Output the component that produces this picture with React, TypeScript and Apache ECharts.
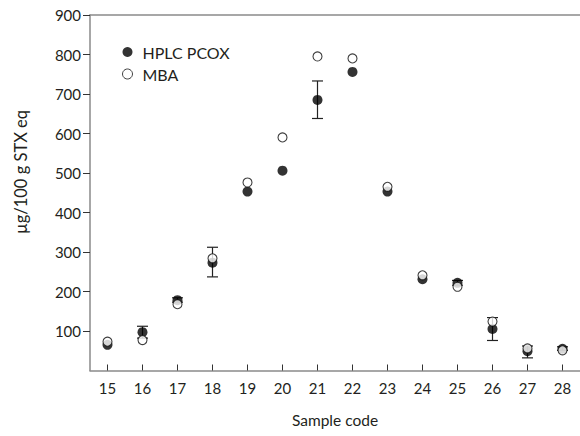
import React, { useEffect, useRef } from "react";
import * as echarts from "echarts";

const categories = ["15", "16", "17", "18", "19", "20", "21", "22", "23", "24", "25", "26", "27", "28"];
const hplcValues = [65, 97, 178, 273, 453, 506, 685, 756, 453, 231, 222, 105, 49, 55];
const mbaValues = [73, 77, 168, 284, 476, 590, 795, 790, 465, 241, 212, 124, 56, 51];
// [category index, low, high]
const hplcErrors: [number, number, number][] = [
  [1, 82, 112],
  [2, 173, 184],
  [3, 237, 312],
  [6, 638, 733],
  [10, 216, 228],
  [11, 76, 134],
  [12, 32, 62],
  [13, 51, 60],
];
const yTicks = [100, 200, 300, 400, 500, 600, 700, 800, 900];

const FONT = "Lato";
const TEXT = "#231f20";
const AXIS = "#8a8a8a";

export default function App() {
  const ref = useRef<HTMLDivElement>(null);
  useEffect(() => {
    if (!ref.current) return;
    const chart = echarts.init(ref.current, undefined, { renderer: "svg" });
    chart.setOption({
      animation: false,
      backgroundColor: "#ffffff",
      textStyle: { fontFamily: FONT, color: TEXT },
      grid: { left: 90, top: 15, width: 492.5, height: 355.5, containLabel: false },
      legend: {
        orient: "vertical",
        left: 122,
        top: 44,
        itemWidth: 10,
        itemHeight: 10,
        itemGap: 6,
        padding: 0,
        textStyle: { fontFamily: FONT, fontSize: 16, color: TEXT, padding: [0, 0, 0, 5], lineHeight: 16 },
        data: [
          { name: "HPLC PCOX", icon: "circle" },
          { name: "MBA", icon: "circle", itemStyle: { color: "#ffffff", borderColor: "#111", borderWidth: 1 } },
        ],
      },
      xAxis: [
        {
          type: "category",
          data: categories,
          position: "bottom",
          boundaryGap: true,
          axisLine: { show: true, lineStyle: { color: AXIS, width: 1.5 } },
          axisTick: { show: true, alignWithLabel: true, inside: true, length: 6, lineStyle: { color: "#333" } },
          axisLabel: { fontFamily: FONT, fontSize: 15, color: TEXT, margin: 10 },
          splitLine: { show: false },
          name: "Sample code",
          nameLocation: "middle",
          nameGap: 41,
          nameTextStyle: { fontFamily: FONT, fontSize: 15.5, color: TEXT },
        },
        {
          type: "category",
          data: categories,
          position: "top",
          axisLine: { show: true, lineStyle: { color: AXIS, width: 1.5 } },
          axisTick: { show: false },
          axisLabel: { show: false },
          splitLine: { show: false },
        },
      ],
      yAxis: {
        type: "value",
        min: 0,
        max: 900,
        interval: 100,
        axisLine: { show: true, lineStyle: { color: AXIS, width: 1.5 } },
        axisTick: { show: true, length: 7, customValues: yTicks, lineStyle: { color: "#333" } },
        axisLabel: {
          fontFamily: FONT,
          fontSize: 15,
          color: TEXT,
          margin: 9,
          customValues: yTicks,
          formatter: (v: number) => (v === 0 ? "" : String(v)),
        },
        splitLine: { show: false },
      },
      graphic: [
        {
          type: "text",
          x: 21,
          y: 172,
          rotation: Math.PI / 2,
          style: {
            text: "µg/100 g STX eq",
            fontFamily: FONT,
            fontSize: 16.5,
            fill: TEXT,
            align: "center",
            verticalAlign: "middle",
          },
        },
      ],
      series: [
        {
          type: "custom",
          name: "err",
          data: hplcErrors,
          z: 1,
          renderItem: (params: any, api: any) => {
            const i = api.value(0);
            const top = api.coord([i, api.value(2)]);
            const bot = api.coord([i, api.value(1)]);
            const hw = 5.5;
            const style = { stroke: "#222", lineWidth: 1.2 };
            return {
              type: "group",
              children: [
                { type: "line", shape: { x1: top[0], y1: top[1], x2: bot[0], y2: bot[1] }, style },
                { type: "line", shape: { x1: top[0] - hw, y1: top[1], x2: top[0] + hw, y2: top[1] }, style },
                { type: "line", shape: { x1: bot[0] - hw, y1: bot[1], x2: bot[0] + hw, y2: bot[1] }, style },
              ],
            };
          },
        },
        {
          type: "scatter",
          name: "HPLC PCOX",
          data: hplcValues.map((v, i) => [i, v]),
          symbol: "circle",
          symbolSize: 10,
          itemStyle: { color: "#000" },
          z: 2,
        },
        {
          type: "scatter",
          name: "MBA",
          data: mbaValues.map((v, i) => [i, v]),
          symbol: "circle",
          symbolSize: 9,
          itemStyle: { color: "#ffffff", borderColor: "#111", borderWidth: 1.1 },
          z: 3,
        },
      ],
    });
    return () => chart.dispose();
  }, []);
  return (
    <div
      ref={ref}
      style={{ position: "absolute", left: 0, top: 0, width: 580, height: 436 }}
    />
  );
}
